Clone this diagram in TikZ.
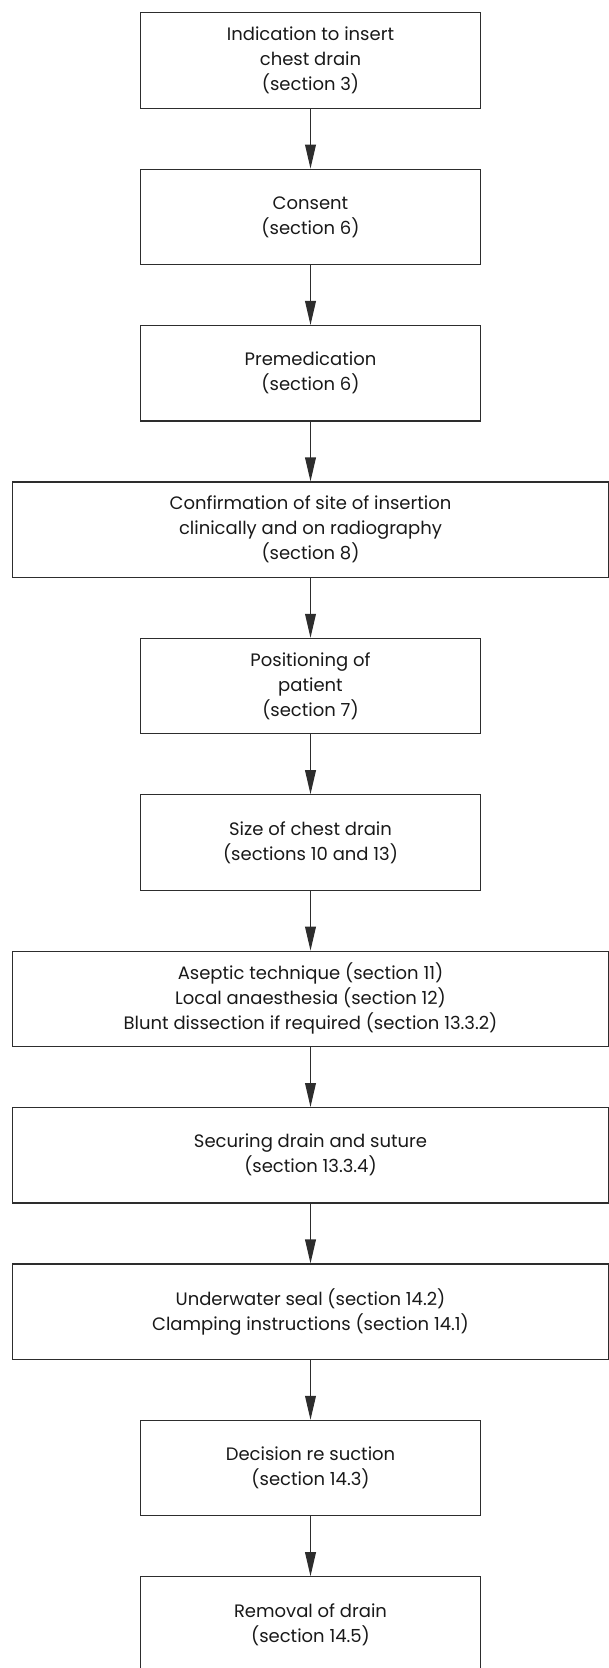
\documentclass[tikz,border=0pt]{standalone}
\usepackage{fontspec}
\setmainfont{Poppins}
\usepackage{xcolor}
\usetikzlibrary{positioning,arrows.meta}
\definecolor{boxline}{RGB}{45,45,45}
\tikzset{
  stepbox/.style={draw=boxline, line width=0.6pt, minimum width=170pt, minimum height=47.7pt,
    align=center, inner sep=2pt, text=black!90, font=\fontsize{9}{12.5}\selectfont},
  widebox/.style={stepbox, minimum width=298pt},
  flow/.style={draw=boxline, line width=0.6pt, -{Triangle[length=12pt,width=5.4pt]}}
}
\begin{document}
\begin{tikzpicture}[x=0.5pt, y=-0.5pt, node distance=29.9pt]
    \useasboundingbox (0,0) rectangle (609,1668);
    \node[stepbox] (indication) at (310.5,60.5) {Indication to insert\\chest drain\\(section 3)};
    \node[stepbox, below=of indication] (consent) {Consent\\(section 6)};
    \node[stepbox, below=of consent] (premed) {Premedication\\(section 6)};
    \node[widebox, below=of premed] (confirm) {Confirmation of site of insertion\\clinically and on radiography\\(section 8)};
    \node[stepbox, below=of confirm] (position) {Positioning of\\patient\\(section 7)};
    \node[stepbox, below=of position] (size) {Size of chest drain\\(sections 10 and 13)};
    \node[widebox, below=of size] (asepsis) {Aseptic technique (section 11)\\Local anaesthesia (section 12)\\Blunt dissection if required (section 13.3.2)};
    \node[widebox, below=of asepsis] (secure) {Securing drain and suture\\(section 13.3.4)};
    \node[widebox, below=of secure] (seal) {Underwater seal (section 14.2)\\Clamping instructions (section 14.1)};
    \node[stepbox, below=of seal] (suction) {Decision re suction\\(section 14.3)};
    \node[stepbox, below=of suction] (removal) {Removal of drain\\(section 14.5)}; % runs off the page

    \draw[flow] (indication) -- (consent);
    \draw[flow] (consent) -- (premed);
    \draw[flow] (premed) -- (confirm);
    \draw[flow] (confirm) -- (position);
    \draw[flow] (position) -- (size);
    \draw[flow] (size) -- (asepsis);
    \draw[flow] (asepsis) -- (secure);
    \draw[flow] (secure) -- (seal);
    \draw[flow] (seal) -- (suction);
    \draw[flow] (suction) -- (removal);
\end{tikzpicture}
\end{document}
